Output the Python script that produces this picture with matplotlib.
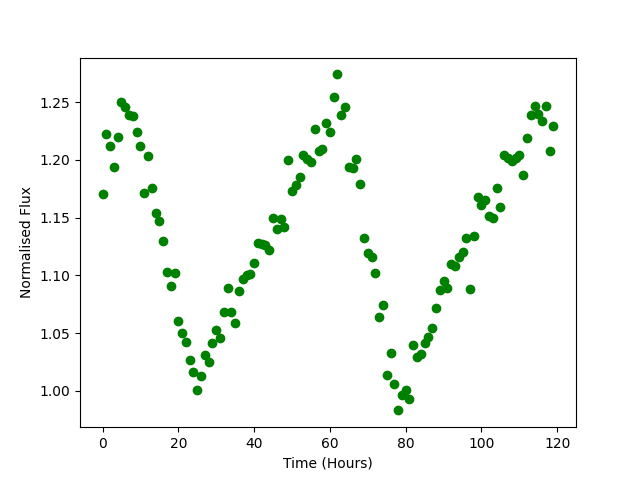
import matplotlib
matplotlib.use("Agg")
import matplotlib.pyplot as plt
import numpy as np

hours = list(range(120))
flux = [
    1.170, 1.222, 1.212, 1.194, 1.220, 1.250, 1.246, 1.239, 1.238, 1.224,
    1.212, 1.171, 1.203, 1.176, 1.154, 1.147, 1.130, 1.103, 1.091, 1.102,
    1.060, 1.050, 1.042, 1.027, 1.016, 1.001, 1.013, 1.031, 1.025, 1.041,
    1.053, 1.046, 1.068, 1.089, 1.068, 1.059, 1.086, 1.097, 1.100, 1.101,
    1.111, 1.128, 1.127, 1.126, 1.122, 1.150, 1.140, 1.149, 1.142, 1.200,
    1.173, 1.178, 1.185, 1.204, 1.201, 1.198, 1.227, 1.208, 1.209, 1.232,
    1.224, 1.254, 1.274, 1.239, 1.246, 1.194, 1.193, 1.201, 1.179, 1.132,
    1.119, 1.116, 1.102, 1.064, 1.074, 1.014, 1.033, 1.006, 0.983, 0.996,
    1.001, 0.993, 1.040, 1.029, 1.032, 1.041, 1.047, 1.054, 1.072, 1.087,
    1.095, 1.089, 1.110, 1.108, 1.116, 1.120, 1.132, 1.088, 1.134, 1.168,
    1.161, 1.165, 1.151, 1.150, 1.176, 1.159, 1.204, 1.202, 1.199, 1.202,
    1.204, 1.187, 1.219, 1.239, 1.247, 1.240, 1.234, 1.247, 1.208, 1.229,
]

fig, ax = plt.subplots(figsize=(6.4, 4.8), dpi=100)
ax.plot(hours, flux, 'o', color='green')
ax.set_xlabel('Time (Hours)')
ax.set_ylabel('Normalised Flux')
fig.savefig('out.png')
